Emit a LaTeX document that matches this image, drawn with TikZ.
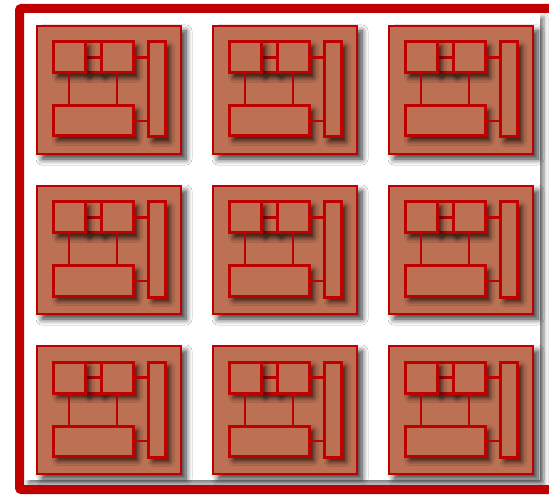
\documentclass[tikz,border=0pt]{standalone}
\usetikzlibrary{shadows.blur}
\definecolor{fr}{RGB}{190,0,0}
\definecolor{brick}{RGB}{188,113,84}
\begin{document}
\begin{tikzpicture}[x=1pt,y=-1pt,
 modbox/.style={draw=fr, line width=2.4pt, fill=brick, rectangle, inner sep=0pt, outer sep=0pt, anchor=north west,
   blur shadow={shadow xshift=5pt, shadow yshift=-5pt, shadow blur radius=6pt, shadow blur steps=8, shadow opacity=80}},
 part/.style={draw=fr, line width=3pt, fill=brick, rectangle, inner sep=0pt, outer sep=0pt, anchor=north west,
   blur shadow={shadow xshift=4.5pt, shadow yshift=-4.5pt, shadow blur radius=5pt, shadow blur steps=8, shadow opacity=80}},
 wire/.style={draw=fr, line width=2.8pt},
]
\useasboundingbox (0,0) rectangle (549,497);
\fill[white] (0,0) rectangle (549,497);
\path[fill=white, blur shadow={shadow xshift=4pt, shadow yshift=-4pt, shadow blur radius=4pt, shadow opacity=50}] (24,13) rectangle (540,480);
\draw[fr, line width=9pt, rounded corners=2pt] (19.5,8.5) rectangle (600,489.5);
\foreach \ci in {0,1,2}{\foreach \ri in {0,1,2}{
 \begin{scope}[shift={(37+176*\ci,26+160*\ri)}]
 \node[modbox, minimum width=144pt, minimum height=128pt] (m\ci\ri) at (0,0) {};
 \node[part, minimum width=16pt, minimum height=15.5pt] (m\ci\ri-b) at (48,16) {};
 \node[part, minimum width=16pt, minimum height=15.5pt] (m\ci\ri-c) at (48,31.5) {};
 \node[part, minimum width=32pt, minimum height=31pt] (m\ci\ri-a) at (16,16) {};
 \node[part, minimum width=32pt, minimum height=31pt] (m\ci\ri-d) at (64,16) {};
 \node[part, minimum width=80pt, minimum height=30pt] (m\ci\ri-e) at (16,80) {};
 \node[part, minimum width=16.5pt, minimum height=95pt] (m\ci\ri-f) at (111.5,16) {};
 \draw[wire] (m\ci\ri-a.south) -- (m\ci\ri-a.south |- m\ci\ri-e.north);
 \draw[wire] (m\ci\ri-d.south) -- (m\ci\ri-d.south |- m\ci\ri-e.north);
 \draw[wire] (m\ci\ri-d.east) -- (m\ci\ri-d.east -| m\ci\ri-f.west);
 \draw[wire] (m\ci\ri-e.east) -- (m\ci\ri-e.east -| m\ci\ri-f.west);
 \end{scope}}}
\end{tikzpicture}
\end{document}
